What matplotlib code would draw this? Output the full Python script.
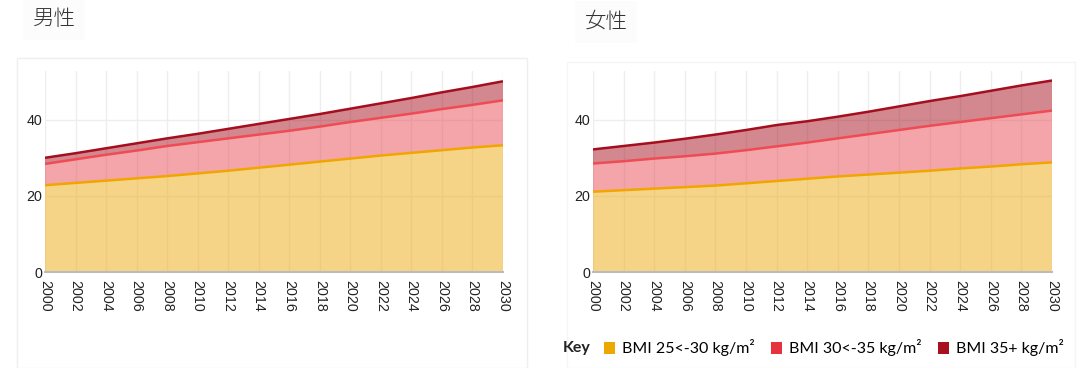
import matplotlib
matplotlib.use("Agg")
import matplotlib.pyplot as plt
from matplotlib.patches import Patch, Rectangle

years = list(range(2000, 2031, 2))
tick_years = list(range(2000, 2031, 2))

# Male (男性) stacked band values, %
male_bmi_25_30 = [22.8, 23.4, 24.0, 24.6, 25.2, 25.9, 26.6, 27.4, 28.2, 29.0, 29.8, 30.6, 31.3, 32.0, 32.7, 33.3]
male_bmi_30_35 = [5.6, 6.2, 6.8, 7.3, 7.9, 8.2, 8.5, 8.7, 8.9, 9.2, 9.6, 9.9, 10.3, 10.8, 11.2, 11.8]
male_bmi_35p = [1.6, 1.6, 1.7, 1.9, 2.0, 2.2, 2.5, 2.8, 3.1, 3.3, 3.5, 3.8, 4.1, 4.4, 4.7, 5.0]

# Female (女性) stacked band values, %
female_bmi_25_30 = [21.1, 21.5, 21.9, 22.3, 22.7, 23.3, 23.9, 24.5, 25.1, 25.6, 26.1, 26.6, 27.2, 27.7, 28.3, 28.8]
female_bmi_30_35 = [7.4, 7.6, 7.9, 8.1, 8.4, 8.7, 9.1, 9.5, 10.0, 10.6, 11.2, 11.8, 12.2, 12.7, 13.1, 13.6]
female_bmi_35p = [3.7, 4.0, 4.2, 4.6, 5.0, 5.3, 5.6, 5.6, 5.7, 5.9, 6.2, 6.5, 6.8, 7.2, 7.6, 7.9]

titles = ["男性", "女性"]
series_labels = ["BMI 25<-30 kg/m²", "BMI 30<-35 kg/m²", "BMI 35+ kg/m²"]
y_ticks = [0, 20, 40]

base_colors = ["#EEAA11", "#E84D55", "#A8101F"]
line_colors = ["#F0A500", "#EE4B55", "#A50E1E"]
legend_colors = ["#EDA800", "#E63340", "#A8101F"]

W, H = 1080, 368
fig = plt.figure(figsize=(W / 100, H / 100), dpi=100)

def fx(px):
    return px / W

def fy(py):
    return 1 - py / H

# panel boxes
fig.patches.append(Rectangle((fx(17), fy(368)), fx(527 - 17), fy(58) - fy(368),
                             transform=fig.transFigure, fill=False,
                             edgecolor="#EFEFEF", lw=1.0))
fig.patches.append(Rectangle((fx(567), fy(368)), fx(1075 - 567), fy(62) - fy(368),
                             transform=fig.transFigure, fill=False,
                             edgecolor="#F5F5F5", lw=1.0))

cjk = ["Noto Sans CJK JP", "DejaVu Sans"]
fig.text(fx(54), fy(19), titles[0], ha="center", va="center", fontsize=15.5,
         family=cjk, color="#333333", fontweight="light",
         bbox=dict(boxstyle="square,pad=0.45", facecolor="#FCFCFC", edgecolor="none"))
fig.text(fx(606), fy(22), titles[1], ha="center", va="center", fontsize=15.5,
         family=cjk, color="#333333", fontweight="light",
         bbox=dict(boxstyle="square,pad=0.45", facecolor="#FCFCFC", edgecolor="none"))

panels = [
    ((45, 503), [male_bmi_25_30, male_bmi_30_35, male_bmi_35p]),
    ((593, 1052), [female_bmi_25_30, female_bmi_30_35, female_bmi_35p]),
]

for (x0, x1), bands in panels:
    ax = fig.add_axes([fx(x0), fy(272), fx(x1 - x0), fy(71) - fy(272)])
    ax.set_facecolor("white")
    ax.set_xlim(2000, 2030)
    ax.set_ylim(0, 52.8)
    ax.set_xticks(tick_years)
    ax.set_xticklabels([str(y) for y in tick_years], rotation=-90,
                       family="Liberation Sans", fontsize=10.3, color="#222222")
    ax.set_yticks(y_ticks)
    ax.set_yticklabels([str(v) for v in y_ticks], family="Liberation Sans",
                       fontsize=10.3, color="#222222")
    ax.tick_params(axis="x", length=0, pad=6)
    ax.tick_params(axis="y", length=0, pad=2)
    ax.grid(True, color="#EEEEEE", lw=1.0)
    ax.set_axisbelow(True)
    for s in ["left", "right", "top"]:
        ax.spines[s].set_visible(False)
    ax.spines["bottom"].set_color("#BBBBBB")
    ax.spines["bottom"].set_linewidth(1.5)
    ax.spines["bottom"].set_zorder(5)

    ax.stackplot(years, *bands, colors=base_colors, alpha=0.5, lw=0, zorder=2)
    cum = [0.0] * len(years)
    for band, lc in zip(bands, line_colors):
        cum = [c + b for c, b in zip(cum, band)]
        ax.plot(years, cum, color=lc, lw=1.8, zorder=3, solid_capstyle="butt")

legend_font = "Lato"
fig.text(fx(563), fy(348), "Key", ha="left", va="center", fontsize=11.5,
         family=legend_font, fontweight="bold", color="#222222")
handles = [Patch(facecolor=c, edgecolor="none") for c in legend_colors]
fig.legend(handles, series_labels, loc="center left",
           bbox_to_anchor=(fx(604), fy(348)), ncol=3, frameon=False,
           handlelength=0.7, handleheight=0.7, handletextpad=0.45,
           columnspacing=1.0, borderaxespad=0, borderpad=0,
           prop={"family": legend_font, "size": 11.5})

fig.savefig("out.png", dpi=100)
